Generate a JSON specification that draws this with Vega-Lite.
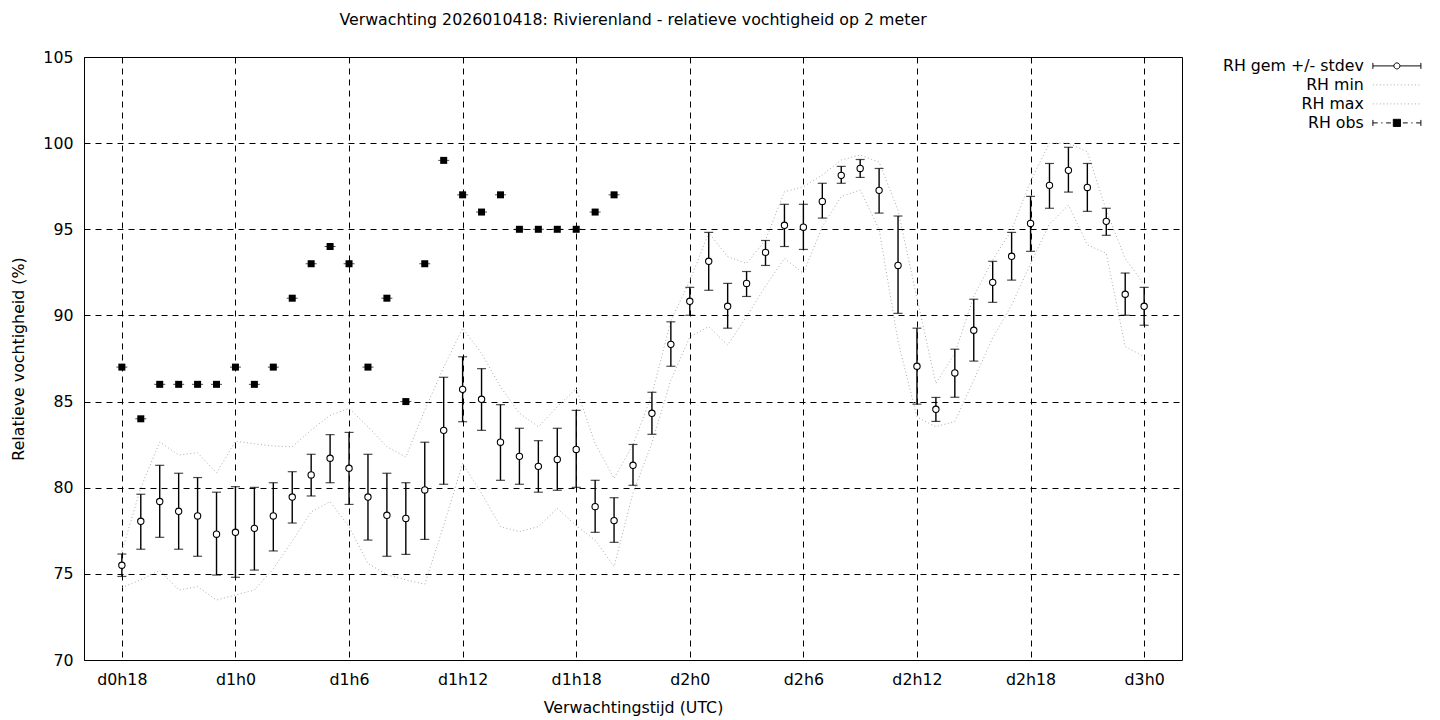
{
  "$schema": "https://vega.github.io/schema/vega-lite/v6.json",
  "width": 1098,
  "height": 603,
  "autosize": {"type": "none"},
  "padding": {"left": 84, "top": 57, "right": 258, "bottom": 60},
  "background": "white",
  "title": {"text": "Verwachting 2026010418: Rivierenland - relatieve vochtigheid op 2 meter", "font": "DejaVu Sans", "fontSize": 15.8, "fontWeight": "normal", "color": "black", "offset": 20, "anchor": "middle"},
  "datasets": {
    "stats": [
      {"h":18,"mean":75.5,"lo":74.85,"hi":76.15},{"h":19,"mean":78.05,"lo":76.43,"hi":79.62},{"h":20,"mean":79.2,"lo":77.12,"hi":81.3},
      {"h":21,"mean":78.63,"lo":76.43,"hi":80.84},{"h":22,"mean":78.36,"lo":76.02,"hi":80.59},{"h":23,"mean":77.3,"lo":74.93,"hi":79.74},
      {"h":24,"mean":77.41,"lo":74.8,"hi":80.06},{"h":25,"mean":77.64,"lo":75.22,"hi":80.02},{"h":26,"mean":78.36,"lo":76.33,"hi":80.29},
      {"h":27,"mean":79.46,"lo":77.95,"hi":80.93},{"h":28,"mean":80.74,"lo":79.52,"hi":81.94},{"h":29,"mean":81.71,"lo":80.29,"hi":83.08},
      {"h":30,"mean":81.13,"lo":79.03,"hi":83.21},{"h":31,"mean":79.46,"lo":76.96,"hi":81.94},{"h":32,"mean":78.4,"lo":76.02,"hi":80.84},
      {"h":33,"mean":78.22,"lo":76.13,"hi":80.29},{"h":34,"mean":79.87,"lo":77.0,"hi":82.64},{"h":35,"mean":83.33,"lo":80.2,"hi":86.41},
      {"h":36,"mean":85.71,"lo":83.83,"hi":87.6},{"h":37,"mean":85.13,"lo":83.33,"hi":86.91},{"h":38,"mean":82.64,"lo":80.43,"hi":84.82},
      {"h":39,"mean":81.82,"lo":80.2,"hi":83.45},{"h":40,"mean":81.24,"lo":79.74,"hi":82.73},{"h":41,"mean":81.64,"lo":79.85,"hi":83.45},
      {"h":42,"mean":82.22,"lo":80.02,"hi":84.49},{"h":43,"mean":78.9,"lo":77.41,"hi":80.43},{"h":44,"mean":78.09,"lo":76.83,"hi":79.42},
      {"h":45,"mean":81.3,"lo":80.14,"hi":82.51},{"h":46,"mean":84.32,"lo":83.1,"hi":85.54},{"h":47,"mean":88.32,"lo":87.05,"hi":89.63},
      {"h":48,"mean":90.82,"lo":90.01,"hi":91.63},{"h":49,"mean":93.14,"lo":91.46,"hi":94.82},{"h":50,"mean":90.53,"lo":89.26,"hi":91.86},
      {"h":51,"mean":91.86,"lo":91.1,"hi":92.55},{"h":52,"mean":93.66,"lo":92.9,"hi":94.35},{"h":53,"mean":95.23,"lo":94.0,"hi":96.45},
      {"h":54,"mean":95.12,"lo":93.83,"hi":96.45},{"h":55,"mean":96.62,"lo":95.65,"hi":97.67},{"h":56,"mean":98.13,"lo":97.67,"hi":98.65},
      {"h":57,"mean":98.53,"lo":98.01,"hi":99.05},{"h":58,"mean":97.26,"lo":95.94,"hi":98.53},{"h":59,"mean":92.9,"lo":90.12,"hi":95.77},
      {"h":60,"mean":87.05,"lo":84.85,"hi":89.26},{"h":61,"mean":84.55,"lo":83.85,"hi":85.24},{"h":62,"mean":86.66,"lo":85.25,"hi":88.04},
      {"h":63,"mean":89.14,"lo":87.35,"hi":90.94},{"h":64,"mean":91.92,"lo":90.76,"hi":93.14},{"h":65,"mean":93.43,"lo":92.05,"hi":94.82},
      {"h":66,"mean":95.34,"lo":93.72,"hi":96.91},{"h":67,"mean":97.55,"lo":96.22,"hi":98.82},{"h":68,"mean":98.42,"lo":97.16,"hi":99.76},
      {"h":69,"mean":97.43,"lo":96.04,"hi":98.82},{"h":70,"mean":95.46,"lo":94.65,"hi":96.22},{"h":71,"mean":91.23,"lo":90.01,"hi":92.46},
      {"h":72,"mean":90.53,"lo":89.43,"hi":91.63}
    ],
    "obs": [
      {"h":18,"rh":87},{"h":19,"rh":84},{"h":20,"rh":86},{"h":21,"rh":86},{"h":22,"rh":86},{"h":23,"rh":86},{"h":24,"rh":87},
      {"h":25,"rh":86},{"h":26,"rh":87},{"h":27,"rh":91},{"h":28,"rh":93},{"h":29,"rh":94},{"h":30,"rh":93},{"h":31,"rh":87},
      {"h":32,"rh":91},{"h":33,"rh":85},{"h":34,"rh":93},{"h":35,"rh":99},{"h":36,"rh":97},{"h":37,"rh":96},{"h":38,"rh":97},
      {"h":39,"rh":95},{"h":40,"rh":95},{"h":41,"rh":95},{"h":42,"rh":95},{"h":43,"rh":96},{"h":44,"rh":97}
    ],
    "range": [
      {"series":"RH min","h":18,"rh":74.2},{"series":"RH min","h":19,"rh":74.65},{"series":"RH min","h":20,"rh":75.2},{"series":"RH min","h":21,"rh":74.06},
      {"series":"RH min","h":22,"rh":74.26},{"series":"RH min","h":23,"rh":73.48},{"series":"RH min","h":24,"rh":73.77},{"series":"RH min","h":25,"rh":74.06},
      {"series":"RH min","h":26,"rh":75.3},{"series":"RH min","h":27,"rh":76.9},{"series":"RH min","h":28,"rh":78.6},{"series":"RH min","h":29,"rh":79.19},
      {"series":"RH min","h":30,"rh":77.74},{"series":"RH min","h":31,"rh":75.6},{"series":"RH min","h":32,"rh":74.95},{"series":"RH min","h":33,"rh":74.65},
      {"series":"RH min","h":34,"rh":74.4},{"series":"RH min","h":35,"rh":77.8},{"series":"RH min","h":36,"rh":81.41},{"series":"RH min","h":37,"rh":79.67},
      {"series":"RH min","h":38,"rh":77.74},{"series":"RH min","h":39,"rh":77.45},{"series":"RH min","h":40,"rh":77.74},{"series":"RH min","h":41,"rh":78.8},
      {"series":"RH min","h":42,"rh":77.8},{"series":"RH min","h":43,"rh":76.96},{"series":"RH min","h":44,"rh":75.42},{"series":"RH min","h":45,"rh":79.7},
      {"series":"RH min","h":46,"rh":82.6},{"series":"RH min","h":47,"rh":86.25},{"series":"RH min","h":48,"rh":88.75},{"series":"RH min","h":49,"rh":89.35},
      {"series":"RH min","h":50,"rh":88.28},{"series":"RH min","h":51,"rh":89.93},{"series":"RH min","h":52,"rh":91.7},{"series":"RH min","h":53,"rh":93.31},
      {"series":"RH min","h":54,"rh":92.44},{"series":"RH min","h":55,"rh":95.16},{"series":"RH min","h":56,"rh":96.9},{"series":"RH min","h":57,"rh":97.28},
      {"series":"RH min","h":58,"rh":95.0},{"series":"RH min","h":59,"rh":88.5},{"series":"RH min","h":60,"rh":84.1},{"series":"RH min","h":61,"rh":83.54},
      {"series":"RH min","h":62,"rh":83.85},{"series":"RH min","h":63,"rh":86.25},{"series":"RH min","h":64,"rh":88.7},{"series":"RH min","h":65,"rh":90.6},
      {"series":"RH min","h":66,"rh":93.0},{"series":"RH min","h":67,"rh":95.3},{"series":"RH min","h":68,"rh":96.4},{"series":"RH min","h":69,"rh":94.1},
      {"series":"RH min","h":70,"rh":93.6},{"series":"RH min","h":71,"rh":88.2},{"series":"RH min","h":72,"rh":87.6},
      {"series":"RH max","h":18,"rh":76.3},{"series":"RH max","h":19,"rh":80.0},{"series":"RH max","h":20,"rh":82.65},{"series":"RH max","h":21,"rh":81.9},
      {"series":"RH max","h":22,"rh":82.03},{"series":"RH max","h":23,"rh":80.85},{"series":"RH max","h":24,"rh":82.7},{"series":"RH max","h":25,"rh":82.55},
      {"series":"RH max","h":26,"rh":82.42},{"series":"RH max","h":27,"rh":82.38},{"series":"RH max","h":28,"rh":83.35},{"series":"RH max","h":29,"rh":84.2},
      {"series":"RH max","h":30,"rh":84.61},{"series":"RH max","h":31,"rh":83.54},{"series":"RH max","h":32,"rh":82.38},{"series":"RH max","h":33,"rh":81.78},
      {"series":"RH max","h":34,"rh":84.5},{"series":"RH max","h":35,"rh":87.0},{"series":"RH max","h":36,"rh":89.25},{"series":"RH max","h":37,"rh":87.8},
      {"series":"RH max","h":38,"rh":85.86},{"series":"RH max","h":39,"rh":84.32},{"series":"RH max","h":40,"rh":83.54},{"series":"RH max","h":41,"rh":84.7},
      {"series":"RH max","h":42,"rh":85.76},{"series":"RH max","h":43,"rh":82.57},{"series":"RH max","h":44,"rh":80.54},{"series":"RH max","h":45,"rh":82.5},
      {"series":"RH max","h":46,"rh":85.4},{"series":"RH max","h":47,"rh":89.7},{"series":"RH max","h":48,"rh":92.0},{"series":"RH max","h":49,"rh":94.8},
      {"series":"RH max","h":50,"rh":93.41},{"series":"RH max","h":51,"rh":93.02},{"series":"RH max","h":52,"rh":94.38},{"series":"RH max","h":53,"rh":97.18},
      {"series":"RH max","h":54,"rh":97.47},{"series":"RH max","h":55,"rh":98.15},{"series":"RH max","h":56,"rh":99.02},{"series":"RH max","h":57,"rh":99.31},
      {"series":"RH max","h":58,"rh":98.9},{"series":"RH max","h":59,"rh":96.1},{"series":"RH max","h":60,"rh":91.0},{"series":"RH max","h":61,"rh":86.05},
      {"series":"RH max","h":62,"rh":87.8},{"series":"RH max","h":63,"rh":91.1},{"series":"RH max","h":64,"rh":93.22},{"series":"RH max","h":65,"rh":94.96},
      {"series":"RH max","h":66,"rh":97.8},{"series":"RH max","h":67,"rh":100.0},{"series":"RH max","h":68,"rh":100.0},{"series":"RH max","h":69,"rh":99.5},
      {"series":"RH max","h":70,"rh":96.1},{"series":"RH max","h":71,"rh":93.3},{"series":"RH max","h":72,"rh":91.8}
    ]
  },
  "encoding": {
    "x": {
      "field": "h", "type": "quantitative",
      "scale": {"domain": [16, 74], "nice": false, "zero": false},
      "axis": {"values": [18,24,30,36,42,48,54,60,66,72], "labelExpr": "'d' + floor(datum.value/24) + 'h' + (datum.value % 24)", "title": "Verwachtingstijd (UTC)", "labelPadding": 12, "titlePadding": 14}
    }
  },
  "layer": [
    {
      "data": {"name": "range"},
      "mark": {"type": "line", "strokeWidth": 1, "strokeDash": [1, 2.5]},
      "encoding": {
        "y": {"field": "rh", "type": "quantitative", "scale": {"domain": [70, 105], "nice": false, "zero": false}, "title": "Relatieve vochtigheid (%)", "axis": {"values": [70, 75, 80, 85, 90, 95, 100, 105]}},
        "stroke": {
          "field": "series", "type": "nominal",
          "scale": {"domain": ["RH gem +/- stdev", "RH min", "RH max", "RH obs"], "range": ["black", "#aaaaaa", "#aaaaaa", "black"]},
          "legend": {
            "title": null, "orient": "none", "legendX": 1305, "legendY": 1,
            "labelAlign": "right", "labelOffset": -41, "labelFont": "DejaVu Sans", "labelFontSize": 15.8, "labelColor": "black",
            "symbolSize": 144, "rowPadding": 2, "labelLimit": 400,
            "encode": {
              "symbols": {
                "update": {
                  "shape": {"signal": "datum.value == 'RH gem +/- stdev' ? 'M-4,-0.5V0.5M-4,0H-0.5M0.5,0H4M4,-0.5V0.5M0.5,0A0.5,0.5 0 1,1 -0.5,0A0.5,0.5 0 1,1 0.5,0' : datum.value == 'RH obs' ? 'M-4,-0.5V0.5M-4,0H-3.2M-2.6,0H-2.4M-1.8,0H-1.0M1.0,0H1.8M2.4,0H2.6M3.2,0H4M4,-0.5V0.5M-0.6,-0.6H0.6V0.6H-0.6Z' : 'M-4,0H4'"},
                  "stroke": {"signal": "datum.value == 'RH min' || datum.value == 'RH max' ? '#aaaaaa' : 'black'"},
                  "strokeDash": {"signal": "datum.value == 'RH min' || datum.value == 'RH max' ? [1, 2.5] : [1, 0]"},
                  "fill": {"signal": "datum.value == 'RH obs' ? 'black' : 'white'"},
                  "fillOpacity": {"value": 1},
                  "strokeWidth": {"value": 1},
                  "opacity": {"value": 1}
                }
              }
            }
          }
        },
        "detail": {"field": "series"}
      }
    },
    {
      "data": {"name": "stats"},
      "mark": {"type": "rule", "color": "black", "strokeWidth": 1.4},
      "encoding": {
        "y": {"field": "lo", "type": "quantitative", "title": "Relatieve vochtigheid (%)"},
        "y2": {"field": "hi"}
      }
    },
    {
      "data": {"name": "stats"},
      "mark": {"type": "tick", "orient": "horizontal", "color": "black", "size": 9, "thickness": 1.2},
      "encoding": {"y": {"field": "lo", "type": "quantitative", "title": "Relatieve vochtigheid (%)"}}
    },
    {
      "data": {"name": "stats"},
      "mark": {"type": "tick", "orient": "horizontal", "color": "black", "size": 9, "thickness": 1.2},
      "encoding": {"y": {"field": "hi", "type": "quantitative", "title": "Relatieve vochtigheid (%)"}}
    },
    {
      "data": {"name": "stats"},
      "mark": {"type": "point", "shape": "circle", "filled": false, "fill": "white", "fillOpacity": 1, "stroke": "black", "strokeWidth": 1.1, "size": 40, "opacity": 1},
      "encoding": {"y": {"field": "mean", "type": "quantitative", "title": "Relatieve vochtigheid (%)"}}
    },
    {
      "data": {"name": "obs"},
      "mark": {"type": "tick", "orient": "horizontal", "color": "black", "size": 11, "thickness": 1},
      "encoding": {"y": {"field": "rh", "type": "quantitative", "title": "Relatieve vochtigheid (%)"}}
    },
    {
      "data": {"name": "obs"},
      "mark": {"type": "point", "shape": "square", "filled": true, "color": "black", "size": 49, "opacity": 1},
      "encoding": {"y": {"field": "rh", "type": "quantitative", "title": "Relatieve vochtigheid (%)"}}
    }
  ],
  "config": {
    "view": {"stroke": "black", "strokeWidth": 1},
    "axis": {
      "grid": true, "gridColor": "black", "gridDash": [6, 5], "gridOpacity": 1, "gridWidth": 1,
      "domain": false, "ticks": false,
      "labelFont": "DejaVu Sans", "labelFontSize": 15.8, "labelColor": "black",
      "titleFont": "DejaVu Sans", "titleFontSize": 15.8, "titleFontWeight": "normal", "titleColor": "black"
    },
    "axisY": {"labelPadding": 11, "titlePadding": 16}
  }
}
